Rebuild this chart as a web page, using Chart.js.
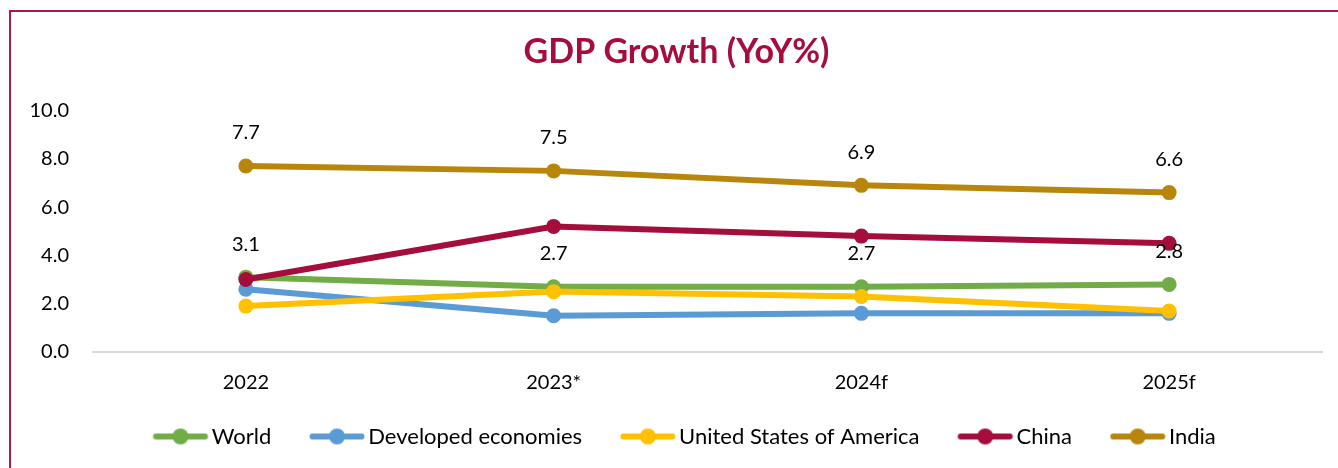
<!DOCTYPE html>
<html><head><meta charset="utf-8">
<script src="https://cdn.jsdelivr.net/npm/chart.js@4.4.1/dist/chart.umd.min.js"></script>
<style>
html,body{margin:0;padding:0;background:#fff;width:1338px;height:468px;overflow:hidden;}
#ftop{position:absolute;left:9px;top:10px;width:1329px;height:2px;background:#B0164B;}
#fleft{position:absolute;left:9px;top:10px;width:2px;height:458px;background:#B0164B;}
#wrap{position:absolute;left:0;top:0;width:1338px;height:468px;}
</style></head><body>
<div id="ftop"></div><div id="fleft"></div>
<div id="wrap"><canvas id="c" width="1338" height="468"></canvas></div>
<script>
// ---- data ----
const categories = ['2022', '2023*', '2024f', '2025f'];
const world = [3.1, 2.7, 2.7, 2.8];
const developed = [2.6, 1.5, 1.6, 1.6];
const usa = [1.9, 2.5, 2.3, 1.7];
const china = [3.0, 5.2, 4.8, 4.5];
const india = [7.7, 7.5, 6.9, 6.6];
const seriesNames = ['World', 'Developed economies', 'United States of America', 'China', 'India'];
const seriesColors = ['#70AD47', '#5B9BD5', '#FFC000', '#A50D3D', '#B8860B'];
const labelledSeries = ['World', 'India'];
const yMin = 0, yMax = 10, yStep = 2;
const titleText = 'GDP Growth (YoY%)';

const FONT = 'Lato';
const LEG_FONT = 22;
const LEG_PAD = 28.5;
const LEG_BOX = 57.5;          // legend box width given to Chart.js
const ICON_W = LEG_BOX + 19;   // icon canvas width (line sits at its right end)

function legendIcon(color) {
  const c = document.createElement('canvas');
  c.width = Math.round(ICON_W); c.height = 18;
  const g = c.getContext('2d');
  const end = c.width - 2.5, start = end - 55;
  g.strokeStyle = color; g.lineWidth = 6; g.lineCap = 'round';
  g.beginPath(); g.moveTo(start + 3, 9); g.lineTo(end - 3, 9); g.stroke();
  g.fillStyle = color;
  g.beginPath(); g.arc((start + end) / 2, 9, 8, 0, Math.PI * 2); g.fill();
  return c;
}

const allValues = [world, developed, usa, china, india];
const datasets = seriesNames.map((name, i) => ({
  label: name,
  data: allValues[i],
  borderColor: seriesColors[i],
  backgroundColor: seriesColors[i],
  borderWidth: 6,
  pointRadius: 7.5,
  pointHoverRadius: 7.5,
  pointBorderWidth: 0,
  pointBackgroundColor: seriesColors[i],
  tension: 0,
  order: seriesNames.length - i,
  showValues: labelledSeries.includes(name)
}));

const valueLabels = {
  id: 'valueLabels',
  afterDatasetsDraw(chart) {
    const ctx = chart.ctx;
    chart.data.datasets.forEach((ds, i) => {
      if (!ds.showValues) return;
      const meta = chart.getDatasetMeta(i);
      meta.data.forEach((pt, j) => {
        ctx.save();
        ctx.font = '20px ' + FONT;
        ctx.fillStyle = '#000';
        ctx.textAlign = 'center';
        ctx.textBaseline = 'middle';
        ctx.fillText(ds.data[j].toFixed(1), pt.x, pt.y - 33);
        ctx.restore();
      });
    });
  }
};

const shiftBoxes = {
  id: 'shiftBoxes',
  afterLayout(chart) {
    if (chart.legend) { chart.legend.left += 18; chart.legend.right += 18; }
    if (chart.titleBlock) { chart.titleBlock.left += 15; chart.titleBlock.right += 15; }
  }
};

new Chart(document.getElementById('c'), {
  type: 'line',
  data: { labels: categories, datasets },
  options: {
    responsive: false,
    animation: false,
    devicePixelRatio: 1,
    layout: { padding: { left: 0, right: 15, top: 0, bottom: 10.5 } },
    plugins: {
      title: {
        display: true,
        text: titleText,
        color: '#A50D3D',
        font: { family: FONT, size: 34, weight: 'bold' },
        padding: { top: 31.6, bottom: 38.1 }
      },
      legend: {
        position: 'bottom',
        labels: {
          usePointStyle: true,
          pointStyleWidth: LEG_BOX,
          boxHeight: 18,
          padding: LEG_PAD,
          color: '#000',
          font: { family: FONT, size: LEG_FONT },
          generateLabels(chart) {
            return chart.data.datasets.map((ds, i) => ({
              text: ds.label,
              pointStyle: legendIcon(ds.borderColor),
              fillStyle: ds.borderColor,
              strokeStyle: ds.borderColor,
              lineWidth: 0,
              hidden: false,
              datasetIndex: i,
              fontColor: '#000'
            }));
          }
        }
      },
      tooltip: { enabled: false }
    },
    scales: {
      x: {
        offset: true,
        grid: { display: false, drawTicks: false },
        border: { display: false },
        ticks: { color: '#000', font: { family: FONT, size: 20 }, padding: 19 },
        afterFit(scale) { scale.height = 45; }
      },
      y: {
        min: yMin, max: yMax,
        grid: {
          drawTicks: false,
          color: (ctx) => (ctx.tick && ctx.tick.value === 0 ? '#D9D9D9' : 'rgba(0,0,0,0)'),
          lineWidth: 2
        },
        border: { display: false },
        ticks: {
          stepSize: yStep,
          color: '#000',
          padding: 23,
          font: { family: FONT, size: 20 },
          callback: (v) => Number(v).toFixed(1)
        },
        afterFit(scale) { scale.width = 92; }
      }
    }
  },
  plugins: [valueLabels, shiftBoxes]
});
</script>
</body></html>
